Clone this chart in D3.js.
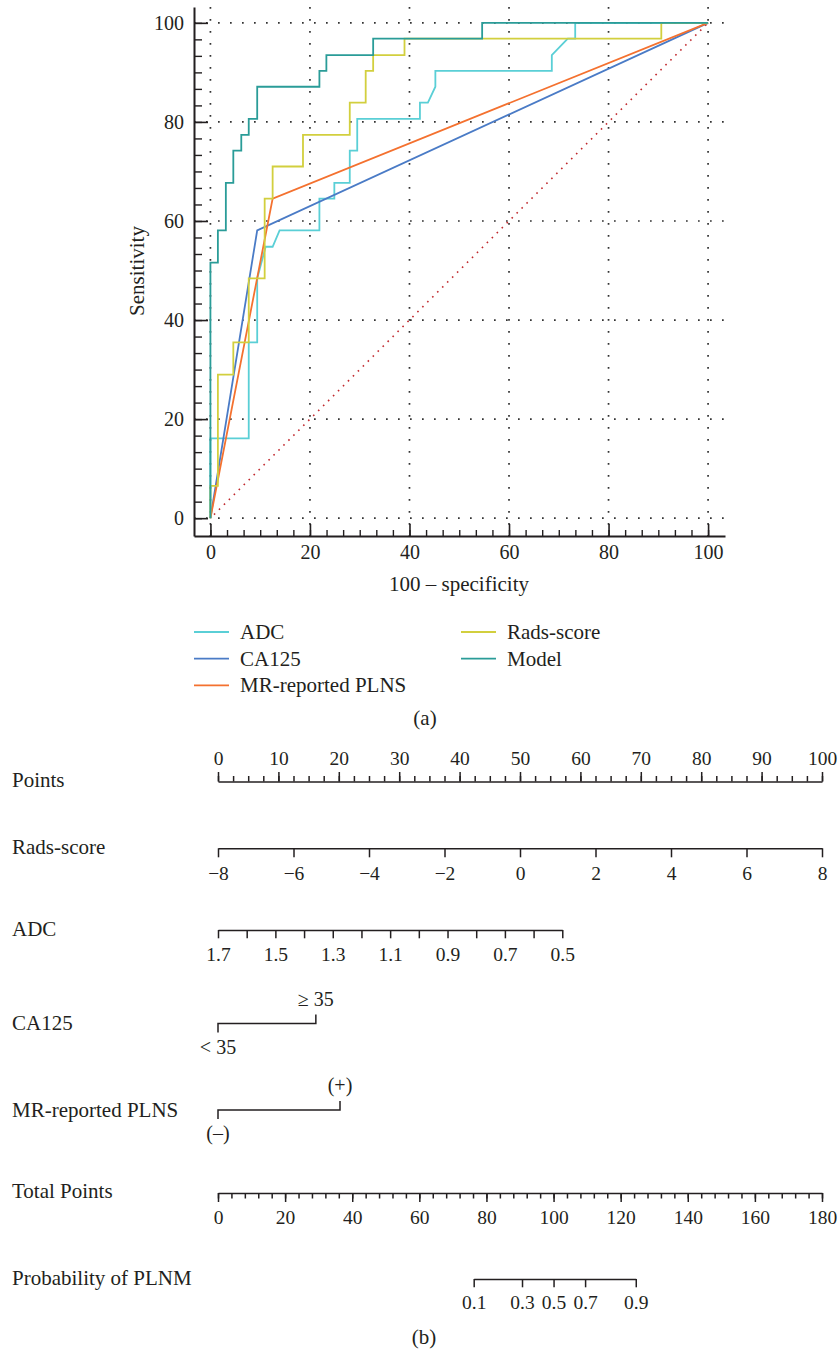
<!DOCTYPE html>
<html>
<head>
<meta charset="utf-8">
<script src="https://cdnjs.cloudflare.com/ajax/libs/d3/7.8.5/d3.min.js"></script>
<style>
    body { margin: 0; background: #fff; }
    svg text { font-family: "Liberation Serif", "Times New Roman", serif; fill: #231f20; }
</style>
</head>
<body>
<div id="chart"></div>
<script>
// ROC curves: 100 - specificity (x) and sensitivity (y), corner points
const adcFpr   = [0, 0, 7.7, 7.7, 9.4, 9.4, 11.1, 12.5, 13.9, 21.9, 21.9, 24.9, 24.9, 28.0, 28.0, 29.5, 29.5, 42.1, 42.1, 43.7, 45.2, 45.2, 68.6, 68.6, 71.8, 73.3, 73.3, 100];
const adcTpr   = [0, 16.1, 16.1, 35.5, 35.5, 48.4, 54.8, 54.8, 58.1, 58.1, 64.5, 64.5, 67.7, 67.7, 74.2, 74.2, 80.6, 80.6, 83.9, 83.9, 87.1, 90.3, 90.3, 93.5, 96.8, 96.8, 100, 100];
const ca125Fpr = [0, 9.4, 100];
const ca125Tpr = [0, 58.1, 100];
const plnsFpr  = [0, 12.5, 100];
const plnsTpr  = [0, 64.5, 100];
const radsFpr  = [0, 0, 1.5, 1.5, 4.6, 4.6, 7.7, 7.7, 10.9, 10.9, 12.5, 12.5, 18.6, 18.6, 28.0, 28.0, 31.2, 31.2, 32.7, 32.7, 39.0, 39.0, 90.6, 90.6, 100];
const radsTpr  = [0, 6.5, 6.5, 29.0, 29.0, 35.5, 35.5, 48.4, 48.4, 64.5, 64.5, 71.0, 71.0, 77.4, 77.4, 83.9, 83.9, 90.3, 90.3, 93.5, 93.5, 96.8, 96.8, 100, 100];
const modelFpr = [0, 0, 1.5, 1.5, 3.1, 3.1, 4.6, 4.6, 6.2, 6.2, 7.7, 7.7, 9.4, 9.4, 21.9, 21.9, 23.3, 23.3, 32.7, 32.7, 54.6, 54.6, 100];
const modelTpr = [0, 51.6, 51.6, 58.1, 58.1, 67.7, 67.7, 74.2, 74.2, 77.4, 77.4, 80.6, 80.6, 87.1, 87.1, 90.3, 90.3, 93.5, 93.5, 96.8, 96.8, 100, 100];

const rocNames  = ["ADC", "CA125", "MR-reported PLNS", "Rads-score", "Model"];
const rocTicks  = [0, 20, 40, 60, 80, 100];

// nomogram scales
const pointsTicks = [0, 10, 20, 30, 40, 50, 60, 70, 80, 90, 100];
const radsTicks   = [-8, -6, -4, -2, 0, 2, 4, 6, 8];
const radsPoints  = [0, 100];
const adcTicks    = [1.7, 1.6, 1.5, 1.4, 1.3, 1.2, 1.1, 1.0, 0.9, 0.8, 0.7, 0.6, 0.5];
const adcLabels   = [1.7, 1.5, 1.3, 1.1, 0.9, 0.7, 0.5];
const adcPoints   = [0, 57];
const ca125Labels = ["< 35", "\u2265 35"];
const ca125Points = [0, 16.2];
const plnsLabels  = ["(\u2013)", "(+)"];
const plnsPoints  = [0, 20.2];
const totalTicks  = [0, 20, 40, 60, 80, 100, 120, 140, 160, 180];
const probTicks   = [0.1, 0.3, 0.5, 0.7, 0.9];
const probTotal   = [76.2, 90.6, 100, 109.4, 124.5];

const colors = {
    "ADC": "#5acfd6",
    "CA125": "#4a7bc6",
    "MR-reported PLNS": "#f4712f",
    "Rads-score": "#d2cf3e",
    "Model": "#2a9c98"
};
const ink = "#231f20";

var svg = d3.select("#chart").append("svg")
    .attr("width", 840)
    .attr("height", 1354);

svg.append("rect").attr("width", 840).attr("height", 1354).attr("fill", "#fff");

// ---------- (a) ROC ----------
var x = d3.scaleLinear().domain([-3.3, 103.4]).range([194, 725]);
var y = d3.scaleLinear().domain([-3.6, 103.2]).range([536, 7]);

var grid = svg.append("g")
    .attr("stroke", "#333")
    .attr("stroke-width", 1.7)
    .attr("stroke-dasharray", "1.7,10.3");

grid.selectAll(".gx")
    .data(rocTicks)
    .enter()
    .append("line")
    .attr("x1", d => x(d)).attr("x2", d => x(d))
    .attr("y1", y.range()[1]).attr("y2", y.range()[0]);

grid.selectAll(".gy")
    .data(rocTicks)
    .enter()
    .append("line")
    .attr("y1", d => y(d)).attr("y2", d => y(d))
    .attr("x1", x.range()[0]).attr("x2", x.range()[1]);

// reference diagonal
svg.append("line")
    .attr("x1", x(0)).attr("y1", y(0))
    .attr("x2", x(100)).attr("y2", y(100))
    .attr("stroke", "#c0282d")
    .attr("stroke-width", 1.6)
    .attr("stroke-dasharray", "1.6,5.4")
    .attr("stroke-dashoffset", -5);

var rocData = [
    {name: "ADC", fpr: adcFpr, tpr: adcTpr},
    {name: "CA125", fpr: ca125Fpr, tpr: ca125Tpr},
    {name: "MR-reported PLNS", fpr: plnsFpr, tpr: plnsTpr},
    {name: "Rads-score", fpr: radsFpr, tpr: radsTpr},
    {name: "Model", fpr: modelFpr, tpr: modelTpr}
];

var valueline = d3.line()
    .x(d => x(d[0]))
    .y(d => y(d[1]));

svg.selectAll(".roc")
    .data(rocData)
    .enter()
    .append("path")
    .attr("class", "roc")
    .attr("fill", "none")
    .attr("stroke", d => colors[d.name])
    .attr("stroke-width", 1.8)
    .attr("d", d => valueline(d.fpr.map((v, i) => [v, d.tpr[i]])));

function styleAxis(g, size) {
    g.attr("font-family", null).attr("font-size", size);
    g.selectAll("line").attr("stroke", ink);
    g.selectAll("path").attr("stroke", ink);
}

var minorTicks = d3.range(0, 100.01, 20 / 6);

// x axis
var xAxis = svg.append("g")
    .attr("transform", "translate(0,536)")
    .call(d3.axisBottom(x).tickValues(rocTicks).tickSizeInner(-12).tickSizeOuter(0).tickPadding(9));
styleAxis(xAxis, 20);
xAxis.select(".domain").attr("stroke-width", 2);
xAxis.selectAll(".tick line").attr("stroke-width", 1.6);

svg.append("g")
    .attr("transform", "translate(0,536)")
    .call(d3.axisBottom(x).tickValues(minorTicks).tickSize(-6).tickFormat(""))
    .call(g => g.select(".domain").remove())
    .selectAll("line").attr("stroke", ink).attr("stroke-width", 1.4);

// y axis
var yAxis = svg.append("g")
    .attr("transform", "translate(194,0)")
    .call(d3.axisLeft(y).tickValues(rocTicks).tickSizeInner(-14).tickSizeOuter(0).tickPadding(10));
styleAxis(yAxis, 20);
yAxis.select(".domain").attr("stroke-width", 2);
yAxis.selectAll(".tick line").attr("stroke-width", 1.6);

svg.append("g")
    .attr("transform", "translate(194,0)")
    .call(d3.axisLeft(y).tickValues(minorTicks).tickSize(-8).tickFormat(""))
    .call(g => g.select(".domain").remove())
    .selectAll("line").attr("stroke", ink).attr("stroke-width", 1.4);

svg.append("text")
    .attr("x", 459)
    .attr("y", 591)
    .attr("text-anchor", "middle")
    .style("font-size", "21px")
    .text("100 \u2013 specificity");

svg.append("text")
    .attr("transform", "translate(144,271) rotate(-90)")
    .attr("text-anchor", "middle")
    .style("font-size", "21px")
    .text("Sensitivity");

// legend, two columns
var legendPos = [[194, 632], [194, 658.7], [194, 685.3], [461, 632], [461, 658.7]];

var legend = svg.selectAll(".legend")
    .data(rocNames)
    .enter()
    .append("g")
    .attr("class", "legend")
    .attr("transform", (d, i) => "translate(" + legendPos[i][0] + "," + legendPos[i][1] + ")");

legend.append("line")
    .attr("x1", 0).attr("x2", 35)
    .attr("stroke", d => colors[d])
    .attr("stroke-width", 1.8);

legend.append("text")
    .attr("x", 46)
    .attr("y", 7)
    .style("font-size", "21px")
    .text(d => d);

svg.append("text")
    .attr("x", 425)
    .attr("y", 725)
    .attr("text-anchor", "middle")
    .style("font-size", "21px")
    .text("(a)");

// ---------- (b) nomogram ----------
var pts   = d3.scaleLinear().domain([0, 100]).range([218, 822]);
var total = d3.scaleLinear().domain([0, 180]).range([218, 822]);

var rowLabels = [
    ["Points", 787],
    ["Rads-score", 854],
    ["ADC", 936],
    ["CA125", 1030],
    ["MR-reported PLNS", 1117],
    ["Total Points", 1198],
    ["Probability of PLNM", 1285]
];

svg.selectAll(".rowlabel")
    .data(rowLabels)
    .enter()
    .append("text")
    .attr("class", "rowlabel")
    .attr("x", 12)
    .attr("y", d => d[1])
    .style("font-size", "21px")
    .text(d => d[0]);

function nomoAxis(g) {
    styleAxis(g, 19.5);
    g.selectAll("path, line").attr("stroke-width", 1.5);
}

// Points
svg.append("g")
    .attr("transform", "translate(0,781.5)")
    .call(d3.axisTop(pts).tickValues(pointsTicks).tickSizeInner(9.5).tickSizeOuter(0).tickPadding(7))
    .call(nomoAxis);

svg.append("g")
    .attr("transform", "translate(0,781.5)")
    .call(d3.axisTop(pts).tickValues(d3.range(0, 100.01, 2.5)).tickSize(5.5).tickFormat(""))
    .call(g => g.select(".domain").remove())
    .call(nomoAxis);

// Rads-score
var radsX = d3.scaleLinear().domain([radsTicks[0], radsTicks[radsTicks.length - 1]])
    .range([pts(radsPoints[0]), pts(radsPoints[1])]);

svg.append("g")
    .attr("transform", "translate(0,848.3)")
    .call(d3.axisBottom(radsX).tickValues(radsTicks).tickSizeInner(9).tickSizeOuter(0).tickPadding(9))
    .call(nomoAxis);

// ADC
var adcX = d3.scaleLinear().domain([adcTicks[0], adcTicks[adcTicks.length - 1]])
    .range([pts(adcPoints[0]), pts(adcPoints[1])]);

svg.append("g")
    .attr("transform", "translate(0,930)")
    .call(d3.axisBottom(adcX).tickValues(adcTicks).tickSizeInner(8.3).tickSizeOuter(0).tickPadding(9)
        .tickFormat(d => adcLabels.some(v => Math.abs(v - d) < 1e-6) ? d3.format(".1f")(d) : ""))
    .call(nomoAxis);

// two-level factors: low level tick down, high level tick up
function factorRow(levels, points, ly) {
    var x0 = pts(points[0]), x1 = pts(points[1]);
    svg.append("path")
        .attr("d", "M" + x0 + "," + (ly + 9) + "V" + ly + "H" + x1 + "V" + (ly - 9))
        .attr("fill", "none")
        .attr("stroke", ink)
        .attr("stroke-width", 1.5);
    svg.append("text")
        .attr("x", x0).attr("y", ly + 30)
        .attr("text-anchor", "middle")
        .style("font-size", "20px")
        .text(levels[0]);
    svg.append("text")
        .attr("x", x1).attr("y", ly - 18)
        .attr("text-anchor", "middle")
        .style("font-size", "20px")
        .text(levels[1]);
}

factorRow(ca125Labels, ca125Points, 1023.5);
factorRow(plnsLabels, plnsPoints, 1110);

// Total Points
svg.append("g")
    .attr("transform", "translate(0,1193)")
    .call(d3.axisBottom(total).tickValues(totalTicks).tickSizeInner(9).tickSizeOuter(0).tickPadding(8.5))
    .call(nomoAxis);

svg.append("g")
    .attr("transform", "translate(0,1193)")
    .call(d3.axisBottom(total).tickValues(d3.range(0, 180.01, 4)).tickSize(5.5).tickFormat(""))
    .call(g => g.select(".domain").remove())
    .call(nomoAxis);

// Probability of PLNM, positioned on the total points scale
var probX = d3.scaleLinear().domain([probTotal[0], probTotal[probTotal.length - 1]])
    .range([total(probTotal[0]), total(probTotal[probTotal.length - 1])]);

svg.append("g")
    .attr("transform", "translate(0,1279)")
    .call(d3.axisBottom(probX).tickValues(probTotal).tickSizeInner(8.3).tickSizeOuter(0).tickPadding(7.5)
        .tickFormat((d, i) => probTicks[i]))
    .call(nomoAxis);

svg.append("text")
    .attr("x", 424)
    .attr("y", 1344)
    .attr("text-anchor", "middle")
    .style("font-size", "21px")
    .text("(b)");
</script>
</body>
</html>
